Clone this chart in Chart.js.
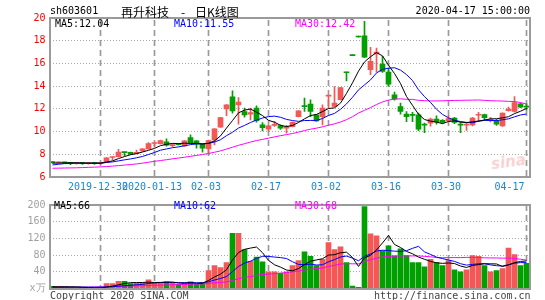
<!DOCTYPE html>
<html><head><meta charset="utf-8">
<script src="https://cdn.jsdelivr.net/npm/chart.js@4.4.1/dist/chart.umd.min.js"></script>
<style>
body{margin:0;background:#fff;}
#wrap{position:relative;width:545px;height:300px;overflow:hidden;background:#fff;font-family:'DejaVu Sans Mono',monospace;font-size:10px;color:#000;}
.t{position:absolute;white-space:pre;line-height:10px;}
.cn{position:absolute;white-space:pre;font-family:'Noto Sans CJK SC',sans-serif;font-size:12px;line-height:14px;}
canvas{position:absolute;left:0;}
</style></head><body>
<div id="wrap">
<canvas id="pc" width="545" height="195" style="top:0"></canvas>
<canvas id="vc" width="545" height="105" style="top:195px"></canvas>
<div class="t" style="left:50px;top:6.4px;">sh603601</div>
<div class="cn" style="left:121px;top:4.5px;">再升科技</div>
<div class="cn" style="left:181px;top:4.5px;">-</div>
<div class="cn" style="left:195px;top:4.5px;">日K线图</div>
<div class="t" style="right:15px;top:6.4px;">2020-04-17 15:00:00</div>
<div class="t" style="left:55px;top:18.9px;color:#000">MA5:12.04</div>
<div class="t" style="left:174px;top:18.9px;color:#0000ff">MA10:11.55</div>
<div class="t" style="left:295px;top:18.9px;color:#ff00ff">MA30:12.42</div>
<div class="t" style="left:54px;top:201.2px;color:#000">MA5:66</div>
<div class="t" style="left:174px;top:201.2px;color:#0000ff">MA10:62</div>
<div class="t" style="left:295px;top:201.2px;color:#ff00ff">MA30:68</div>
<div class="t" style="left:50px;top:291.2px;color:#444">Copyright 2020 SINA.COM</div>
<div class="t" style="right:14.5px;top:291.2px;color:#444">http://finance.sina.com.cn</div>
<div style="position:absolute;left:491px;top:153px;font-family:'DejaVu Sans',sans-serif;font-style:italic;font-weight:bold;font-size:15px;color:rgba(225,90,90,0.28);transform:rotate(-8deg);">sina</div>
</div>
<script>
// categories (trading days)
const dates = ['2019-12-18','2019-12-19','2019-12-20','2019-12-23','2019-12-24','2019-12-25','2019-12-26','2019-12-27','2019-12-30','2019-12-31',
'2020-01-02','2020-01-03','2020-01-06','2020-01-07','2020-01-08','2020-01-09','2020-01-10','2020-01-13','2020-01-14','2020-01-15',
'2020-01-16','2020-01-17','2020-01-20','2020-01-21','2020-01-22','2020-01-23','2020-02-03','2020-02-04','2020-02-05','2020-02-06',
'2020-02-07','2020-02-10','2020-02-11','2020-02-12','2020-02-13','2020-02-14','2020-02-17','2020-02-18','2020-02-19','2020-02-20',
'2020-02-21','2020-02-24','2020-02-25','2020-02-26','2020-02-27','2020-02-28','2020-03-02','2020-03-03','2020-03-04','2020-03-05',
'2020-03-06','2020-03-09','2020-03-10','2020-03-11','2020-03-12','2020-03-13','2020-03-16','2020-03-17','2020-03-18','2020-03-19',
'2020-03-20','2020-03-23','2020-03-24','2020-03-25','2020-03-26','2020-03-27','2020-03-30','2020-03-31','2020-04-01','2020-04-02',
'2020-04-03','2020-04-07','2020-04-08','2020-04-09','2020-04-10','2020-04-13','2020-04-14','2020-04-15','2020-04-16','2020-04-17'];

// x tick labels
const tickDates  = ['2019-12-30','2020-01-13','2020-02-03','2020-02-17','2020-03-02','2020-03-16','2020-03-30','2020-04-17'];
const tickLabels = ['2019-12-30','2020-01-13','02-03','02-17','03-02','03-16','03-30','04-17'];

// OHLC
const open  = [7.32,7.24,7.30,7.25,7.21,7.22,7.21,7.22,7.21,7.32,
7.72,7.79,8.18,8.18,8.08,8.29,8.47,8.95,8.94,9.10,
8.75,8.88,8.74,9.47,9.18,8.89,8.47,9.27,10.39,12.00,
13.06,12.35,11.77,11.53,12.06,10.59,10.21,10.55,10.53,10.30,
10.44,11.32,12.25,12.41,11.47,11.32,13.12,12.21,12.80,15.22,
16.71,18.35,18.44,15.44,16.83,15.94,15.24,13.24,12.21,11.53,
11.47,11.47,10.62,10.74,11.09,11.00,10.97,11.18,10.62,10.57,
10.59,11.44,11.50,11.00,10.94,10.50,11.85,11.77,12.44,12.22];
const high  = [7.35,7.33,7.32,7.27,7.24,7.23,7.23,7.23,7.24,7.70,
7.78,8.44,8.20,8.20,8.38,8.50,9.03,9.02,9.25,9.35,
8.95,8.92,9.20,9.71,9.20,8.90,9.26,10.26,11.26,12.37,
13.59,13.00,12.06,12.06,12.27,10.80,10.55,10.90,10.60,10.55,
10.85,11.85,12.94,12.80,11.50,12.35,13.20,13.97,13.90,15.24,
16.72,18.36,19.71,17.41,17.36,16.62,15.59,13.47,12.50,11.77,
11.70,11.62,10.74,11.18,11.38,11.05,11.40,11.25,10.80,10.80,
11.25,11.70,11.55,11.25,11.08,11.65,12.15,13.09,12.50,12.44];
const low   = [7.22,7.20,7.20,7.08,7.12,7.10,7.12,7.10,7.12,7.30,
7.50,7.75,7.85,7.98,8.03,8.25,8.45,8.62,8.90,8.72,
8.68,8.80,8.70,9.00,8.53,8.18,8.06,8.82,10.37,11.41,
11.62,10.65,11.27,11.03,10.83,10.06,10.05,10.45,10.20,9.86,
10.40,11.30,11.77,11.32,10.90,10.59,12.06,12.20,12.78,14.47,
16.68,18.32,16.50,15.00,15.24,15.20,13.97,12.76,11.53,10.88,
10.88,10.09,9.91,10.47,10.65,10.75,10.90,10.70,9.91,10.10,
10.50,10.88,11.05,10.85,10.55,10.45,11.80,11.70,12.10,11.90];
const close = [7.26,7.30,7.25,7.20,7.22,7.21,7.22,7.21,7.22,7.68,
7.77,8.20,8.15,8.00,8.18,8.47,8.94,9.00,9.20,8.80,
8.85,8.85,9.18,9.03,8.89,8.53,9.21,10.24,11.24,12.35,
11.82,12.59,11.47,11.68,10.97,10.35,10.50,10.62,10.29,10.45,
10.82,11.83,12.20,11.77,10.94,12.06,13.18,12.50,13.88,15.18,
16.69,18.33,16.56,16.18,17.00,15.30,14.18,12.88,11.77,11.32,
11.42,10.21,10.57,11.09,10.85,10.80,11.15,10.80,10.57,10.62,
11.18,11.49,11.23,11.08,10.65,11.62,11.97,12.56,12.15,12.15];

// price moving averages
const ma5 = [7.22,7.23,7.24,7.25,7.25,7.23,7.22,7.22,7.22,7.31,
7.42,7.62,7.80,7.96,8.06,8.20,8.35,8.52,8.76,8.88,
8.96,8.94,8.98,8.95,8.96,8.90,8.97,9.18,9.62,10.31,
10.97,11.65,11.89,11.98,11.71,11.41,10.99,10.82,10.55,10.44,
10.54,10.80,11.12,11.41,11.51,11.76,12.03,12.09,12.51,13.36,
14.29,15.32,16.13,16.59,16.95,16.67,15.84,15.11,14.23,13.09,
12.31,11.52,11.06,10.92,10.83,10.70,10.89,10.94,10.83,10.79,
10.86,10.93,11.02,11.12,11.13,11.21,11.31,11.58,11.79,12.04];
const ma10 = [7.06,7.12,7.18,7.20,7.21,7.21,7.21,7.21,7.21,7.28,
7.33,7.42,7.51,7.59,7.69,7.81,7.98,8.16,8.36,8.47,
8.58,8.65,8.75,8.85,8.92,8.93,8.96,9.08,9.28,9.64,
9.94,10.31,10.54,10.80,11.01,11.19,11.32,11.36,11.26,11.07,
10.97,10.90,10.97,10.98,10.98,11.15,11.42,11.60,11.96,12.44,
13.02,13.67,14.11,14.55,15.16,15.48,15.58,15.62,15.41,15.02,
14.49,13.68,13.08,12.57,11.96,11.51,11.21,11.00,10.88,10.81,
10.78,10.91,10.98,10.98,10.96,11.04,11.12,11.30,11.46,11.55];
const ma30 = [6.77,6.78,6.79,6.80,6.81,6.83,6.85,6.87,6.89,6.92,
6.96,7.00,7.05,7.10,7.15,7.22,7.30,7.38,7.45,7.52,
7.60,7.67,7.74,7.82,7.90,7.98,8.07,8.18,8.30,8.46,
8.62,8.79,8.93,9.08,9.21,9.31,9.42,9.53,9.64,9.73,
9.83,9.95,10.09,10.21,10.30,10.42,10.56,10.68,10.84,11.05,
11.31,11.63,11.87,12.11,12.38,12.61,12.77,12.86,12.88,12.84,
12.83,12.75,12.72,12.70,12.70,12.71,12.73,12.74,12.75,12.76,
12.77,12.78,12.75,12.72,12.70,12.69,12.66,12.64,12.56,12.42];

// volume (x万) and its moving averages
const volume = [5,5,4,3,2,1,1,1,2,12,
12,17,17,12,13,13,21,13,13,16,
13,10,13,16,10,14,43,55,50,62,
132,132,93,65,75,64,40,40,37,40,
55,67,88,77,55,70,110,93,100,62,
6,3,196,131,126,90,102,78,95,79,
62,62,52,70,62,55,67,45,40,45,
79,77,55,40,43,48,97,81,55,60];
const vma5 = [4,4,4,4,3.8,3,2.2,1.6,1.4,3.4,
5.6,8.8,12,14,14.2,14.4,15.2,14.4,14.6,15.2,
15.2,13,13,13.6,12.4,12.6,19.2,27.6,34.4,44.8,
68.4,86.2,93.8,96.8,99.4,85.8,67.4,56.8,51.2,44.2,
42.4,47.8,57.4,65.4,68.4,71.4,80,81,85.6,87,
74.2,52.8,73.4,79.6,92.4,109.2,127,105.4,98.2,88.8,
83.2,75.2,70,65,61.6,60.2,61.2,59.8,53.8,50.4,
55.2,57.2,59.2,59.2,58.8,52.6,56.6,61.8,64.8,66];
const vma10 = [3,3,3.2,3.3,3.3,3.3,3.3,3.3,3.4,3.6,
4.3,5.5,6.8,7.7,8.8,10,12,13.2,14.3,14.7,
14.8,14.1,13.7,14.1,13.8,13.9,16.1,20.3,24,28.6,
40.5,52.7,60.7,65.6,72.1,77.1,76.8,75.3,74,71.8,
64.1,57.6,57.1,58.3,56.3,56.9,63.9,69.2,75.5,77.7,
72.8,66.4,77.2,82.6,89.7,91.7,90.9,89.4,88.9,90.6,
96.2,101,87.7,81.6,75.2,71.7,68.2,64.9,59.4,56,
57.7,59.2,59.5,56.5,54.6,53.9,56.9,60.5,62,62];
const vma30 = [3,3,3,3,3,3,3.2,3.4,3.6,4,
4.4,5,5.5,6,6.4,6.8,7.4,7.8,8.2,8.6,
9,9.3,9.7,10.2,10.5,11,12.3,13.8,14.6,15.6,
19.5,23.5,26.5,28.5,31.6,33.4,34.4,35.5,36.6,38.4,
40,41.8,44.5,46.3,47.4,49.3,52.8,55.5,58.5,59.4,
59.2,59.1,64.6,68.8,72.7,75.3,77,77.5,78,78,
78,78,77,76,74,73.7,74,74,74,74.5,
74.5,74,73.5,73.2,73.2,72.7,72.7,72,70,68];

const RED = '#f55656', GREEN = '#00a000';
const GRID = '#a8a8a8';
const MONO = "'DejaVu Sans Mono', monospace";
const tickIdx = tickDates.map(d => dates.indexOf(d));
const upColor = c => (close[c.dataIndex] >= open[c.dataIndex] ? RED : GREEN);

// dashed fill pattern for the vertical grid bars
const pat = (() => {
  const c = document.createElement('canvas');
  c.width = 1; c.height = 10;
  const g = c.getContext('2d');
  g.fillStyle = '#999999';
  g.fillRect(0, 0, 1, 6);
  return document.getElementById('pc').getContext('2d').createPattern(c, 'repeat');
})();

function frame(chart) {
  const a = chart.chartArea, ctx = chart.ctx;
  ctx.save();
  ctx.setLineDash([]);
  ctx.strokeStyle = '#9a9a9a';
  ctx.lineWidth = 2;
  ctx.strokeRect(Math.round(a.left), Math.round(a.top), Math.round(a.right) - Math.round(a.left), Math.round(a.bottom) - Math.round(a.top));
  ctx.restore();
}

function xlabels(chart) {
  const xs = chart.scales.x, a = chart.chartArea, ctx = chart.ctx;
  const step = xs.getPixelForValue(1) - xs.getPixelForValue(0);
  ctx.save();
  ctx.font = '10px ' + MONO; ctx.fillStyle = '#1b86cf';
  ctx.textAlign = 'center'; ctx.textBaseline = 'middle';
  tickIdx.forEach((k, j) => {
    const txt = tickLabels[j], w = ctx.measureText(txt).width;
    let x = Math.round(xs.getPixelForValue(k) - step / 2);
    if (x + w / 2 > a.right - 5) x = a.right - 5 - w / 2;
    ctx.fillText(txt, x, a.bottom + 10);
  });
  ctx.restore();
}

const pricePlugin = {id: 'priceDeco', afterDraw: c => { xlabels(c); frame(c); }};
const volPlugin = {id: 'volDeco', afterDraw: c => frame(c)};

const lineDs = (data, color) => ({type: 'line', data, borderColor: color, borderWidth: 1, pointRadius: 0, tension: 0, fill: false, order: 0});

// vertical dashed grid at the labelled dates, as 1px floating bars spanning the whole axis
const gridDs = (ymin, ymax) => ({
  type: 'bar', order: 10, grouped: false, barThickness: 1, borderWidth: 0,
  data: dates.map((d, i) => (tickIdx.includes(i) ? [ymin, ymax] : null)),
  backgroundColor: pat
});

const xScale = () => ({
  type: 'category', offset: true,
  grid: {display: false}, border: {display: false}, ticks: {display: false},
  afterFit: s => { s.height = 0; }
});

new Chart(document.getElementById('pc'), {
  type: 'bar',
  data: {
    labels: dates,
    datasets: [
      lineDs(ma5, '#000000'),
      lineDs(ma10, '#0000ff'),
      lineDs(ma30, '#ff00ff'),
      {type: 'bar', data: dates.map((d, i) => [Math.min(open[i], close[i]), Math.max(open[i], close[i])]),
       backgroundColor: upColor, borderWidth: 0, barThickness: 5, grouped: false, minBarLength: 1, order: 1},
      {type: 'bar', data: dates.map((d, i) => [low[i], high[i]]),
       backgroundColor: upColor, borderWidth: 0, barThickness: 1, grouped: false, minBarLength: 1, order: 2},
      gridDs(6, 20)
    ]
  },
  options: {
    responsive: false, animation: false, events: [],
    plugins: {legend: {display: false}, tooltip: {enabled: false}},
    layout: {padding: {left: 0, right: 15.5, top: 18, bottom: 18}},
    scales: {
      x: xScale(),
      y: {
        min: 6, max: 20,
        ticks: {stepSize: 2, color: '#ff0000', font: {family: MONO, size: 10}, padding: 4},
        grid: {color: GRID, drawTicks: false, lineWidth: 1},
        border: {display: false, dash: [1, 2]},
        afterFit: s => { s.width = 49.5; }
      }
    }
  },
  plugins: [pricePlugin]
});

new Chart(document.getElementById('vc'), {
  type: 'bar',
  data: {
    labels: dates,
    datasets: [
      lineDs(vma5, '#000000'),
      lineDs(vma10, '#0000ff'),
      lineDs(vma30, '#ff00ff'),
      {type: 'bar', data: volume, backgroundColor: upColor, borderWidth: 0, barThickness: 5, grouped: false, order: 1},
      gridDs(0, 200)
    ]
  },
  options: {
    responsive: false, animation: false, events: [],
    plugins: {legend: {display: false}, tooltip: {enabled: false}},
    layout: {padding: {left: 0, right: 15.5, top: 6, bottom: 11.5}},
    scales: {
      x: xScale(),
      y: {
        min: 0, max: 200,
        ticks: {stepSize: 40, color: '#a0a0a0', font: {family: MONO, size: 10}, padding: 4,
                callback: v => (v === 0 ? 'x万' : v)},
        grid: {color: GRID, drawTicks: false, lineWidth: 1},
        border: {display: false, dash: [1, 2]},
        afterFit: s => { s.width = 49.5; }
      }
    }
  },
  plugins: [volPlugin]
});
</script>
</body></html>
